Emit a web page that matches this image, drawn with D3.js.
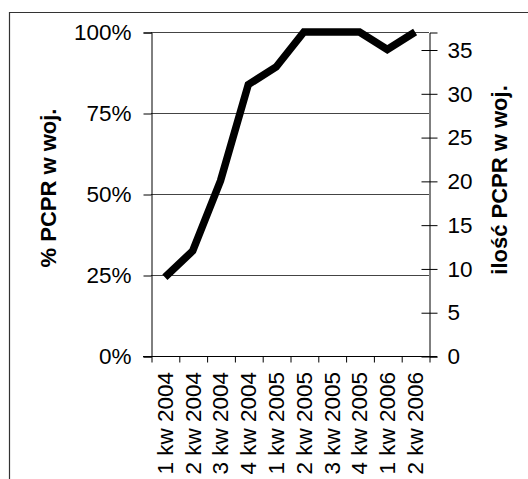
<!DOCTYPE html>
<meta charset="utf-8">
<title>PCPR w woj.</title>
<style>
body { margin: 0; background: #fff; }
text { font-family: Arial, "Liberation Sans", sans-serif; }
</style>
<body>
<script src="https://cdn.jsdelivr.net/npm/d3@7"></script>
<script>
var width = 528, height = 479;

// quarters and number of PCPR (count) per quarter
var quarters = ["1 kw 2004", "2 kw 2004", "3 kw 2004", "4 kw 2004",
                "1 kw 2005", "2 kw 2005", "3 kw 2005", "4 kw 2005",
                "1 kw 2006", "2 kw 2006"];
var counts = [9, 12, 20, 31, 33, 37, 37, 37, 35, 37];
var total = 37;
var pctTicks = [0, 0.25, 0.5, 0.75, 1];
var countTicks = [0, 5, 10, 15, 20, 25, 30, 35];

var svg = d3.select('body').append('svg')
    .attr('width', width)
    .attr('height', height);

// outer chart frame (only top and left edges visible in the crop)
svg.append('path')
    .attr('d', 'M9.5,479V12.5H528')
    .attr('fill', 'none')
    .attr('stroke', '#333')
    .attr('stroke-width', 1.2);

var plot = {left: 151, right: 429, top: 32, bottom: 356};

var x = d3.scaleBand()
    .domain(quarters)
    .range([plot.left, plot.right]);
var xEdge = d3.scaleLinear()
    .domain([0, quarters.length])
    .range([plot.left, plot.right]);
var yPct = d3.scaleLinear()
    .domain([0, 1])
    .range([plot.bottom, plot.top]);
var yCnt = d3.scaleLinear()
    .domain([0, total])
    .range([plot.bottom, plot.top]);

// gridlines
svg.append('g')
  .selectAll('line')
  .data(pctTicks.slice(1))
  .enter().append('line')
    .attr('x1', plot.left)
    .attr('x2', plot.right)
    .attr('y1', function(d) { return Math.round(yPct(d)) + 0.5; })
    .attr('y2', function(d) { return Math.round(yPct(d)) + 0.5; })
    .attr('stroke', '#444')
    .attr('stroke-width', 1);

// left axis (percent)
var gl = svg.append('g')
    .attr('transform', 'translate(' + (plot.left + 0.5) + ',0.5)')
    .call(d3.axisLeft(yPct).tickValues(pctTicks).tickFormat(d3.format('.0%')).tickSize(8).tickPadding(12));

// right axis (count), ticks cross the axis line
var gr = svg.append('g')
    .attr('transform', 'translate(' + (plot.right + 0.5) + ',0.5)')
    .call(d3.axisRight(yCnt).tickValues(countTicks).tickSize(8).tickPadding(10));
gr.selectAll('.tick line').attr('x1', -8);

// x axis: ticks at category boundaries
svg.append('g')
    .attr('transform', 'translate(0.5,' + (plot.bottom + 0.5) + ')')
    .call(d3.axisBottom(xEdge).tickValues(d3.range(quarters.length + 1)).tickFormat('').tickSize(6))
    .select('.domain').remove();
svg.append('line')
    .attr('x1', plot.left - 8).attr('x2', plot.right + 8)
    .attr('y1', plot.bottom + 0.5).attr('y2', plot.bottom + 0.5)
    .attr('stroke', '#000');

var gx = svg.append('g')
    .attr('transform', 'translate(0,' + plot.bottom + ')')
    .call(d3.axisBottom(x).tickSize(0));
gx.select('.domain').remove();
gx.selectAll('text')
    .attr('transform', 'rotate(-90)')
    .attr('x', -16)
    .attr('y', 0)
    .attr('dy', '0.35em')
    .attr('text-anchor', 'end');

[gl, gr, gx].forEach(function(g) {
  g.selectAll('text')
      .attr('font-size', 22.5)
      .attr('font-family', 'Arial, "Liberation Sans", sans-serif')
      .attr('fill', '#000');
  g.selectAll('line, path').attr('stroke', '#000');
});

// data line
var line = d3.line()
    .x(function(d, i) { return x(quarters[i]) + x.bandwidth() / 2; })
    .y(function(d) { return yCnt(d); });
svg.append('path')
    .datum(counts)
    .attr('d', line)
    .attr('fill', 'none')
    .attr('stroke', '#000')
    .attr('stroke-width', 7.5)
    .attr('stroke-linejoin', 'miter');

// axis titles
svg.append('text')
    .attr('transform', 'translate(56,188) rotate(-90)')
    .attr('text-anchor', 'middle')
    .attr('font-size', 22)
    .attr('font-weight', 'bold')
    .text('% PCPR w woj.');
svg.append('text')
    .attr('transform', 'translate(507,180) rotate(-90)')
    .attr('text-anchor', 'middle')
    .attr('font-size', 22)
    .attr('font-weight', 'bold')
    .text('ilość PCPR w woj.');
</script>
